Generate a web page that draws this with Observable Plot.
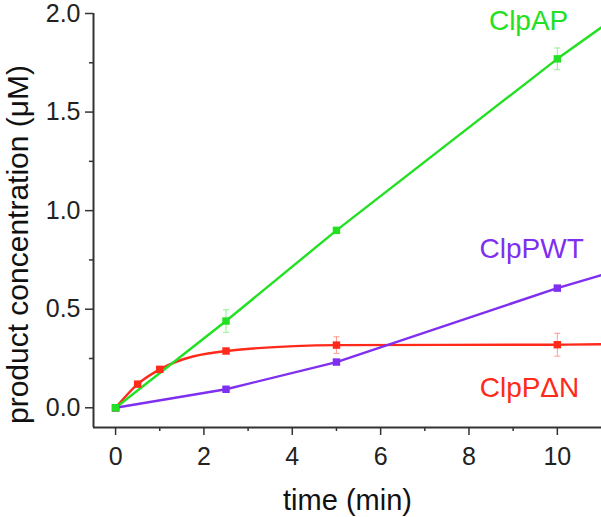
<!DOCTYPE html>
<html><head><meta charset="utf-8">
<script src="https://cdn.jsdelivr.net/npm/d3@7"></script>
<script src="https://cdn.jsdelivr.net/npm/@observablehq/plot@0.6"></script>
<style>body{margin:0;background:#fff} svg{display:block}</style>
</head><body><div id="chart"></div>
<script>
// ClpAP
const timeAP = [0, 2.5, 5, 10, 11];
const valAP  = [0, 0.44, 0.90, 1.77, 1.93];
const errAP  = [0, 0.057, 0, 0.055, null];
const markerAP = [true, true, true, true, false];
// ClpPWT
const timeWT = [0, 2.5, 5, 10, 11];
const valWT  = [0, 0.094, 0.232, 0.607, 0.673];
const errWT  = [0, 0, 0, 0, null];
const markerWT = [true, true, true, true, false];
// ClpPΔN
const timeDN = [0, 0.5, 1, 2.5, 5, 10, 11];
const valDN  = [0, 0.12, 0.195, 0.288, 0.318, 0.32, 0.322];
const errDN  = [0, 0, 0, 0.012, 0.042, 0.058, null];
const markerDN = [true, true, true, true, true, true, false];

const seriesNames = ["ClpAP", "ClpPWT", "ClpPΔN"];
const seriesColors = ["#22e022", "#7f2ff0", "#ff2a1a"];
const errColors = ["#8ff08f", "#b896f7", "#ff9a90"];
const labelX = [9.35, 9.42, 9.37];
const labelY = [1.914, 0.762, 0.054];

const xTicks = [0, 2, 4, 6, 8, 10];
const xMinor = [1, 3, 5, 7, 9];
const yTicks = [0, 0.5, 1.0, 1.5, 2.0];
const yMinor = [0.25, 0.75, 1.25, 1.75];
const xDomain = [-0.5, 11];
const yDomain = [-0.1, 2.0];
const xTitle = "time (min)";
const yTitle = "product concentration (μM)";

function build(name, t, v, e, m, ci) {
  return t.map((ti, i) => ({series: name, t: ti, v: v[i], e: e[i], marker: m[i], color: seriesColors[ci], ecolor: errColors[ci]}));
}
const dAP = build("ClpAP", timeAP, valAP, errAP, markerAP, 0);
const dWT = build("ClpPWT", timeWT, valWT, errWT, markerWT, 1);
const dDN = build("ClpPΔN", timeDN, valDN, errDN, markerDN, 2);
const allData = [...dDN, ...dWT, ...dAP];
const errData = allData.filter(d => d.e);
const markerData = allData.filter(d => d.marker);
const labels = seriesNames.map((n, i) => ({text: n, x: labelX[i], y: labelY[i], color: seriesColors[i]}));

const capSymbol = {draw(ctx, size) { const w = Math.sqrt(size) / 2; ctx.moveTo(-w, 0); ctx.lineTo(w, 0); }};
const font = "'Liberation Sans', Arial, sans-serif";

const chart = Plot.plot({
  width: 601, height: 517,
  marginLeft: 93, marginRight: 0, marginTop: 13, marginBottom: 90,
  x: {domain: xDomain, label: null},
  y: {domain: yDomain, label: null},
  style: {fontFamily: font, background: "white", color: "#222"},
  marks: [
    Plot.axisY(yMinor, {tickSize: 4, tickFormat: () => "", stroke: "#333", strokeWidth: 1.5, label: null}),
    Plot.axisY(yTicks, {tickSize: 8, tickPadding: 5, tickFormat: d3.format(".1f"), fontSize: 25, stroke: "#333", strokeWidth: 1.5, label: null}),
    Plot.axisX(xMinor, {tickSize: 4, tickFormat: () => "", stroke: "#333", strokeWidth: 1.5, label: null}),
    Plot.axisX(xTicks, {tickSize: 8, tickPadding: 12, fontSize: 25, stroke: "#333", strokeWidth: 1.5, label: null}),
    Plot.ruleX([xDomain[0]], {stroke: "#333", strokeWidth: 2}),
    Plot.ruleY([yDomain[0]], {stroke: "#333", strokeWidth: 2}),
    Plot.line(dDN, {x: "t", y: "v", stroke: seriesColors[2], strokeWidth: 2.4, curve: "monotone-x"}),
    Plot.line(dWT, {x: "t", y: "v", stroke: seriesColors[1], strokeWidth: 2.4}),
    Plot.line(dAP, {x: "t", y: "v", stroke: seriesColors[0], strokeWidth: 2.4}),
    Plot.ruleX(errData, {x: "t", y1: d => d.v - d.e, y2: d => d.v + d.e, stroke: d => d.ecolor, strokeWidth: 1}),
    Plot.dot(errData, {x: "t", y: d => d.v + d.e, symbol: capSymbol, r: 3.4, stroke: d => d.ecolor, fill: "none", strokeWidth: 1}),
    Plot.dot(errData, {x: "t", y: d => d.v - d.e, symbol: capSymbol, r: 3.4, stroke: d => d.ecolor, fill: "none", strokeWidth: 1}),
    Plot.dot(markerData, {x: "t", y: "v", symbol: "square", r: 4.2, fill: d => d.color, stroke: "none"}),
    Plot.text(labels, {x: "x", y: "y", text: "text", fill: d => d.color, fontSize: 28, textAnchor: "middle", lineAnchor: "bottom"}),
    Plot.text([yTitle], {frameAnchor: "left", textAnchor: "middle", rotate: -90, dx: -75, dy: 24, fontSize: 30, fill: "#111"}),
    Plot.text([xTitle], {frameAnchor: "bottom", textAnchor: "middle", dy: 82, lineAnchor: "bottom", fontSize: 29, fill: "#111"})
  ]
});
document.getElementById("chart").appendChild(chart);
</script>
</body></html>
